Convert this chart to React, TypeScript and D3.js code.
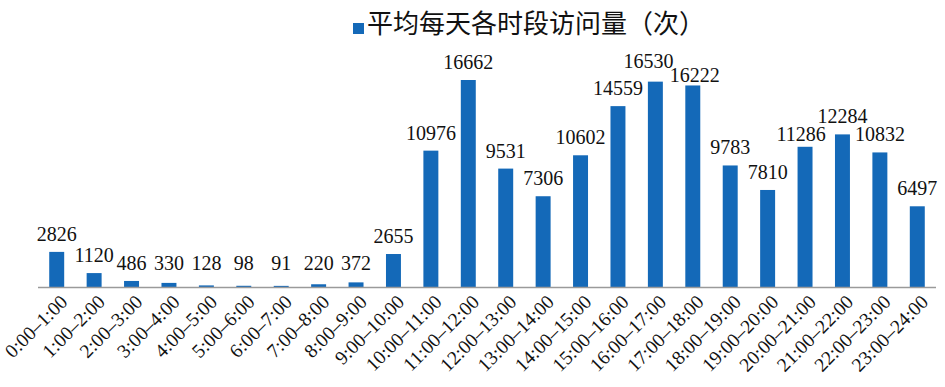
import { useEffect, useRef } from "react"
import * as d3 from "d3"

const slots = [
  "0:00–1:00", "1:00–2:00", "2:00–3:00", "3:00–4:00", "4:00–5:00", "5:00–6:00",
  "6:00–7:00", "7:00–8:00", "8:00–9:00", "9:00–10:00", "10:00–11:00", "11:00–12:00",
  "12:00–13:00", "13:00–14:00", "14:00–15:00", "15:00–16:00", "16:00–17:00", "17:00–18:00",
  "18:00–19:00", "19:00–20:00", "20:00–21:00", "21:00–22:00", "22:00–23:00", "23:00–24:00",
]
const visits = [
  2826, 1120, 486, 330, 128, 98, 91, 220, 372, 2655, 10976, 16662,
  9531, 7306, 10602, 14559, 16530, 16222, 9783, 7810, 11286, 12284, 10832, 6497,
]
const seriesName = "平均每天各时段访问量（次）"

export default function App() {
  const svgRef = useRef<SVGSVGElement>(null)

  useEffect(() => {
    if (!svgRef.current) return
    const svg = d3.select(svgRef.current)
    svg.selectAll("*").remove()

    const width = 945
    const height = 387
    const baseY = 287
    const color = "#1469b8"

    const x = d3.scaleBand<string>().domain(slots).range([38, 936]).paddingInner(0.6).paddingOuter(0.3)
    const y = d3.scaleLinear().domain([0, 16662]).range([baseY, 80])

    // hand nudges for crowded labels (dx, gap above bar)
    const nudge: Record<number, [number, number]> = {
      16: [-7, 14],
      17: [2, 3],
      20: [-4, 6],
    }

    svg.attr("width", width).attr("height", height)

    // bars
    svg.append("g")
      .selectAll("rect")
      .data(visits)
      .enter()
      .append("rect")
      .attr("x", (_, i) => x(slots[i])!)
      .attr("y", (d) => y(d))
      .attr("width", x.bandwidth())
      .attr("height", (d) => baseY - y(d))
      .attr("fill", color)

    // axis line
    svg.append("line")
      .attr("x1", 38)
      .attr("x2", 936)
      .attr("y1", baseY + 0.5)
      .attr("y2", baseY + 0.5)
      .attr("stroke", "#9a9a9a")
      .attr("stroke-width", 1.5)

    // value labels
    svg.append("g")
      .selectAll("text")
      .data(visits)
      .enter()
      .append("text")
      .attr("x", (_, i) => x(slots[i])! + x.bandwidth() / 2 + (nudge[i] ? nudge[i][0] : 0))
      .attr("y", (d, i) => Math.min(y(d) - (nudge[i] ? nudge[i][1] : 11), 270))
      .attr("text-anchor", "middle")
      .attr("font-family", "'Liberation Serif', serif")
      .attr("font-size", 20)
      .attr("fill", "#111")
      .text((d) => d)

    // category labels
    svg.append("g")
      .selectAll("text")
      .data(slots)
      .enter()
      .append("text")
      .attr("transform", (d) => `translate(${x(d)! + x.bandwidth() / 2 + 12},${baseY + 16}) rotate(-45)`)
      .attr("text-anchor", "end")
      .attr("font-family", "'Liberation Serif', serif")
      .attr("font-size", 19.5)
      .attr("fill", "#111")
      .text((d) => d)

    // legend
    const legend = svg.append("g").attr("transform", "translate(353,23)")
    legend.append("rect").attr("x", 0).attr("y", 0).attr("width", 11).attr("height", 11).attr("fill", color)
    legend.append("text")
      .attr("x", 14)
      .attr("y", 10)
      .attr("font-family", "'Noto Sans CJK SC', sans-serif")
      .attr("font-size", 26)
      .attr("fill", "#111")
      .text(seriesName)
  }, [])

  return <svg ref={svgRef} style={{ position: "absolute", left: 0, top: 0, background: "#fff" }} />
}
